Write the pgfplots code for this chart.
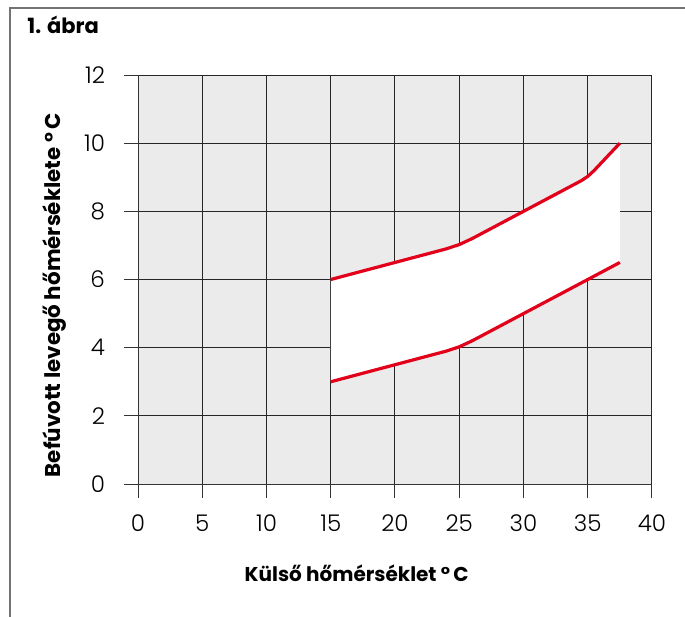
\documentclass[border=0pt]{standalone}
\usepackage{pgfplots}
\pgfplotsset{compat=1.18}
\usepackage{fontspec}
\setmainfont{Poppins}
\newfontfamily\lightfont{Poppins Light}
\definecolor{bg}{HTML}{EBEBEB}
\definecolor{cred}{HTML}{E2001A}
\begin{document}
\begin{tikzpicture}
\useasboundingbox (0,0) rectangle (342.5pt,-308pt);
\draw[color=black!55, line width=1pt] (5pt,-310pt) -- (5pt,-4pt) -- (345pt,-4pt);
\node[anchor=base west, font=\bfseries\fontsize{10.5}{12}\selectfont, inner sep=0] at (13.5pt,-16.5pt) {1. ábra};
\begin{axis}[
 at={(69pt,-242pt)}, anchor=south west,
 width=257pt, height=204.5pt, scale only axis,
 xmin=0,xmax=40,ymin=0,ymax=12,
 xtick={0,5,...,40}, ytick={0,2,...,12},
 axis lines=left, axis line style={-, line width=0.5pt, black!80},
 tick align=outside, major tick length=7pt, tick style={black!80, line width=0.5pt},
 grid=major, grid style={black!85, line width=0.5pt},
 axis background/.style={fill=bg},
 ticklabel style={font=\lightfont\fontsize{11.5}{13}\selectfont},
 xticklabel style={yshift=-5pt},
 yticklabel style={xshift=-6pt},
 /pgf/number format/assume math mode=true,
 xlabel={Külső hőmérséklet °\,C}, ylabel={Befúvott levegő hőmérséklete °\,C},
 xlabel style={font=\bfseries\fontsize{10}{12}\selectfont, at={(rel axis cs:0.4255,-0.2176)}, anchor=center},
 ylabel style={font=\bfseries\fontsize{10.7}{12}\selectfont, at={(rel axis cs:-0.1615,0.462)}, anchor=center},
]
\addplot[fill=white, draw=none] coordinates {(15,6) (20,6.5) (24,6.9) (25,7.025) (26,7.2) (30,8) (34.5,8.9) (35,9.025) (35.5,9.2) (37.5,10) (37.5,6.5) (35,6) (30,5) (26,4.2) (25,4.025) (24,3.9) (20,3.5) (15,3)} -- cycle;
\addplot[cred, line width=1.6pt, line join=round] coordinates {(15,6) (20,6.5) (24,6.9) (25,7.025) (26,7.2) (30,8) (34.5,8.9) (35,9.025) (35.5,9.2) (37.5,10)};
\addplot[cred, line width=1.6pt, line join=round] coordinates {(15,3) (20,3.5) (24,3.9) (25,4.025) (26,4.2) (30,5) (35,6) (37.5,6.5)};
\end{axis}
\end{tikzpicture}
\end{document}
